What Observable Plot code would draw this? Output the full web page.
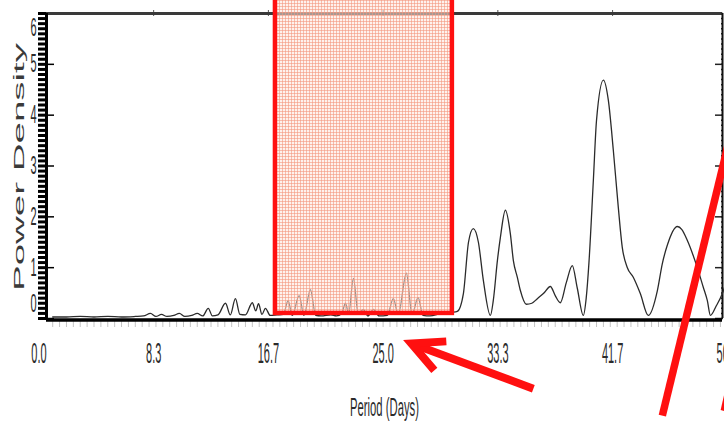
<!DOCTYPE html>
<html>
<head>
<meta charset="utf-8">
<script src="https://cdn.jsdelivr.net/npm/d3@7"></script>
<script src="https://cdn.jsdelivr.net/npm/@observablehq/plot@0.6"></script>
<style>
  html, body { margin: 0; padding: 0; background: #ffffff; }
  #chart { width: 724px; height: 423px; overflow: hidden; }
</style>
</head>
<body>
<div id="chart"></div>
<script>
// ---- data ----
const period = [1.0, 2.0, 3.0, 4.0, 5.0, 6.0, 7.0, 7.6, 8.1, 8.5, 8.9, 9.3, 9.8, 10.2, 10.6, 11.1, 11.5, 11.9,
  12.3, 12.6, 13.0, 13.55, 13.9, 14.27, 14.6, 15.0, 15.5, 15.75, 15.95, 16.2, 16.45, 16.8, 17.3, 17.75,
  18.1, 18.4, 18.9, 19.25, 19.72, 20.1, 20.5, 21.2, 21.6, 22.0, 22.26, 22.5, 22.84, 23.2, 23.56, 23.9,
  24.3, 24.7, 25.3, 25.74, 26.1, 26.69, 27.1, 27.54, 27.9, 28.4, 29.2, 30.0, 30.39, 30.83, 31.2, 31.55,
  31.92, 32.28, 32.79, 33.0, 33.3, 33.52, 33.88, 34.24, 34.46, 34.75, 34.97, 35.4, 35.8, 36.2, 36.64,
  37.15, 37.5, 37.87, 38.3, 38.74, 39.1, 39.54, 39.75, 39.95, 40.27, 40.5, 41.0, 41.36, 41.72, 42.08,
  42.37, 42.74, 43.17, 43.68, 44.26, 44.92, 45.28, 45.64, 46.37, 46.7, 47.09, 47.82, 48.26, 48.55,
  48.77, 49.2, 49.64, 50.0];
const power = [0.03, 0.03, 0.04, 0.03, 0.04, 0.03, 0.04, 0.05, 0.1, 0.04, 0.08, 0.04, 0.06, 0.1, 0.04, 0.06, 0.1, 0.05,
  0.2, 0.05, 0.07, 0.3, 0.07, 0.39, 0.08, 0.07, 0.31, 0.15, 0.29, 0.08, 0.2, 0.06, 0.07, 0.08,
  0.35, 0.06, 0.45, 0.06, 0.57, 0.06, 0.05, 0.07, 0.05, 0.1, 0.3, 0.1, 0.79, 0.08, 0.18, 0.05,
  0.18, 0.05, 0.06, 0.39, 0.08, 0.89, 0.08, 0.41, 0.06, 0.05, 0.1, 0.12, 0.14, 0.49, 1.5, 1.77,
  1.5, 0.75, 0.06, 0.35, 1.14, 1.6, 2.13, 1.67, 1.14, 0.81, 0.55, 0.28, 0.3, 0.39, 0.49,
  0.63, 0.45, 0.31, 0.7, 1.04, 0.6, 0.06, 0.4, 1.1, 2.72, 3.9, 4.69, 4.29, 3.31, 2.19,
  1.4, 1.0, 0.81, 0.49, 0.06, 0.55, 1.08, 1.44, 1.81, 1.75, 1.54, 1.0, 0.61, 0.35,
  0.06, 0.25, 0.49, 0.8];

const xDomain = [0.55, 49.65];
const yDomain = [0, 6];
const xTickValues = [0, 8.333, 16.667, 25, 33.333, 41.667, 50];
const xTickLabels = ["0.0", "8.3", "16.7", "25.0", "33.3", "41.7", "50.0"];
const yTickValues = [0, 1, 2, 3, 4, 5, 6];
const yMinorTicks = d3.range(0, 60.5, 1).map(v => v / 10);
const xMinorTicks = d3.range(1, 100).map(v => v / 2);
const xTitle = "Period (Days)";
const yTitle = "Power Density";

// annotations (in data units)
const highlightX = [17.18, 30.03];
const highlightY = [0.1, 6.3];
const arrowTail = [35.91, -1.38];
const arrowTip = [27.05, -0.49];
const arrowWingA = [29.59, -0.45];
const arrowWingB = [28.72, -1.02];
const slashLine = [[45.28, -1.91], [50.58, 4.0]];
const slashStub = [[49.64, -1.81], [49.93, -1.46]];

// ---- build ----
const series = period.map((p, i) => ({period: p, power: power[i]}));
const W = 724, H = 423, mL = 46, mR = 2, mT = 13, mB = 105;
const plotW = W - mL - mR, plotH = H - mT - mB;
const red = "#ff1010";
const ink = "#2b2b2b";
const centered = {textAnchor: "middle", lineAnchor: "middle"};

const svg = Plot.plot({
  width: W,
  height: H,
  marginLeft: mL, marginRight: mR, marginTop: mT, marginBottom: mB,
  style: {fontFamily: "'Liberation Sans', Arial, sans-serif", background: "#ffffff", color: ink},
  x: {domain: xDomain, axis: null},
  y: {domain: yDomain, axis: null},
  marks: [
    Plot.ruleY(yMinorTicks, {y: d => d, insetRight: plotW - 8, dx: -8, stroke: "#000", strokeWidth: 3}),
    Plot.ruleY(yTickValues, {y: d => d, insetRight: plotW - 8, stroke: "#000", strokeWidth: 1.5}),
    Plot.ruleY(yMinorTicks, {y: d => d, insetLeft: plotW - 2, dx: 1, stroke: "#222", strokeWidth: 1.5}),
    Plot.ruleY(yTickValues, {y: d => d, insetLeft: plotW - 7, stroke: "#222", strokeWidth: 1.5}),
    Plot.ruleX(xMinorTicks.filter(v => v > xDomain[0] && v < xDomain[1]), {x: d => d, insetTop: plotH - 7, dy: 9, stroke: "#c4c4c4", strokeWidth: 1}),
    Plot.ruleX(xTickValues.filter(v => v > xDomain[0] && v < xDomain[1]), {x: d => d, insetBottom: plotH - 6, dy: -3, stroke: "#555", strokeWidth: 1}),
    Plot.ruleY([yDomain[1]], {stroke: "#3a3a3a", strokeWidth: 3}),
    Plot.ruleY([yDomain[0]], {stroke: "#000", strokeWidth: 3.5, dy: 1.5}),
    Plot.ruleX([xDomain[0]], {stroke: "#000", strokeWidth: 3}),
    Plot.ruleX([xDomain[1]], {stroke: "#111", strokeWidth: 2}),
    Plot.line(series, {x: "period", y: "power", curve: "monotone-x", stroke: ink, strokeWidth: 1.3}),
    Plot.rect([0], {x1: () => highlightX[0], x2: () => highlightX[1], y1: () => highlightY[0], y2: () => highlightY[1],
      fill: "url(#redgrid)", stroke: red, strokeWidth: 4.5}),
    Plot.text(yTickValues.filter(v => v > 0 && v < 6), {y: d => d, frameAnchor: "left", dx: -13, text: d => String(d), fontSize: 11, fill: ink, ...centered}),
    Plot.text([yTickValues[0]], {y: d => d, frameAnchor: "left", dx: -13, dy: -15, text: d => String(d), fontSize: 11, fill: ink, ...centered}),
    Plot.text([yTickValues[6]], {y: d => d, frameAnchor: "left", dx: -13, dy: 14, text: d => String(d), fontSize: 11, fill: ink, ...centered}),
    Plot.text(xTickValues, {x: d => d, frameAnchor: "bottom", dy: 35, text: (d, i) => xTickLabels[i], fontSize: 11, fill: ink, ...centered}),
    Plot.text([xTitle], {frameAnchor: "bottom", dy: 89, text: d => d, fontSize: 11.3, fill: ink, ...centered}),
    Plot.text([yTitle], {frameAnchor: "left", dx: -27, dy: 1, rotate: -90, text: d => d, fontSize: 14, fill: "#3a3a3a", ...centered}),
    Plot.link([0], {x1: () => arrowTail[0], y1: () => arrowTail[1], x2: () => arrowTip[0] + 0.5, y2: () => arrowTip[1] - 0.05,
      stroke: red, strokeWidth: 8, strokeLinecap: "butt"}),
    Plot.line([arrowWingA, arrowTip, arrowWingB], {x: d => d[0], y: d => d[1], curve: "linear",
      stroke: red, strokeWidth: 8, strokeLinejoin: "miter", strokeLinecap: "butt", strokeMiterlimit: 10}),
    Plot.link([slashLine], {x1: d => d[0][0], y1: d => d[0][1], x2: d => d[1][0], y2: d => d[1][1],
      stroke: red, strokeWidth: 7.5, strokeLinecap: "butt"}),
    Plot.link([slashStub], {x1: d => d[0][0], y1: d => d[0][1], x2: d => d[1][0], y2: d => d[1][1],
      stroke: red, strokeWidth: 3.5, strokeLinecap: "butt"})
  ]
});

const sel = d3.select(svg);
const defs = sel.insert("defs", ":first-child");
const pat = defs.append("pattern").attr("id", "redgrid").attr("patternUnits", "userSpaceOnUse")
  .attr("width", 3).attr("height", 3);
pat.append("rect").attr("width", 3).attr("height", 3).attr("fill", "#fde6de").attr("fill-opacity", 0.55);
pat.append("path").attr("d", "M0 0.5H3M0.5 0V3").attr("stroke", "#f39a80").attr("stroke-width", 1).attr("stroke-opacity", 0.6);

// stretched lettering like the reference (picked by content)
const yLabelSet = new Set(yTickValues.map(String));
const xLabelSet = new Set(xTickLabels);
function stretchEl(el, t) {
  let tr = el.getAttribute("transform");
  if (!tr) {
    const x = parseFloat(el.getAttribute("x")) || 0;
    const yAttr = el.getAttribute("y") || "";
    const y = yAttr.endsWith("em") ? 0 : (parseFloat(yAttr) || 0);
    el.setAttribute("x", 0);
    if (!yAttr.endsWith("em")) el.setAttribute("y", 0);
    tr = `translate(${x},${y})`;
  }
  el.setAttribute("transform", tr + " " + t);
}
sel.selectAll("text").each(function () {
  const s = this.textContent;
  if (s === yTitle) stretchEl(this, "scale(2.75,1)");
  else if (s === xTitle) stretchEl(this, "scale(1,2.3)");
  else if (xLabelSet.has(s)) stretchEl(this, "scale(1,2.6)");
  else if (yLabelSet.has(s)) stretchEl(this, "scale(1,2.3)");
});

document.getElementById("chart").appendChild(svg);
</script>
</body>
</html>
